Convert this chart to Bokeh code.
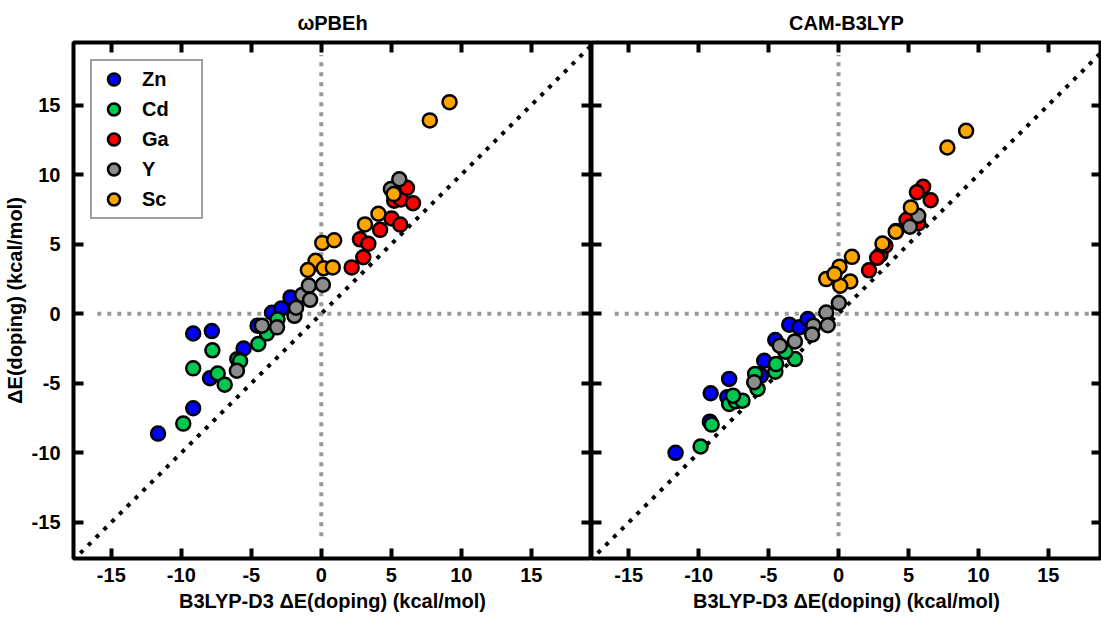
from bokeh.plotting import figure
from bokeh.layouts import row
from bokeh.models import LinearAxis, FixedTicker, Range1d
from bokeh.embed import file_html
from bokeh.resources import INLINE

FONT = "Liberation Sans"

# ---------------- data ----------------
metals = ["Zn", "Cd", "Ga", "Y", "Sc"]
colors = ["#0000FF", "#00C850", "#FF0000", "#8C8C8C", "#FFA500"]

ticks = [-15, -10, -5, 0, 5, 10, 15]
tick_labels = ["-15", "-10", "-5", "0", "5", "10", "15"]

# wPBEh panel (x = B3LYP-D3, y = functional)
zn_x_l = [-11.66, -9.15, -9.15, -7.82, -7.95, -5.55, -4.55, -3.52, -2.85, -2.20]
zn_y_l = [-8.62, -6.80, -1.42, -1.25, -4.64, -2.50, -0.86, 0.07, 0.38, 1.17]
cd_x_l = [-9.86, -9.15, -7.78, -7.40, -6.90, -6.00, -5.80, -4.50, -3.88, -3.13]
cd_y_l = [-7.90, -3.93, -2.63, -4.30, -5.10, -3.27, -3.40, -2.18, -1.41, -0.40]
ga_x_l = [2.17, 3.00, 2.76, 3.36, 4.20, 5.02, 5.64, 5.21, 5.69, 6.12, 6.55]
ga_y_l = [3.33, 4.06, 5.35, 5.03, 6.03, 6.85, 6.41, 8.12, 8.22, 9.05, 7.95]
y_x_l = [-6.03, -4.24, -3.16, -1.92, -1.80, -1.36, -0.89, -0.80, 0.11, 4.97, 5.57]
y_y_l = [-4.10, -0.86, -0.98, -0.15, 0.43, 1.35, 2.02, 1.00, 2.08, 8.96, 9.67]
sc_x_l = [9.16, 7.75, 5.17, 4.08, 3.12, 0.07, 0.92, -0.41, -0.96, 0.17, 0.82]
sc_y_l = [15.21, 13.90, 8.60, 7.19, 6.42, 5.09, 5.28, 3.81, 3.14, 3.27, 3.33]

# CAM-B3LYP panel
zn_x_r = [-11.65, -9.14, -9.20, -7.82, -7.95, -5.55, -5.31, -4.52, -3.52, -2.80, -2.20]
zn_y_r = [-10.00, -5.72, -7.76, -4.69, -6.00, -4.45, -3.38, -1.89, -0.79, -0.98, -0.38]
cd_x_r = [-9.86, -9.07, -7.82, -7.34, -6.87, -7.54, -5.79, -5.96, -4.52, -4.47, -3.11, -3.80]
cd_y_r = [-9.55, -7.97, -6.49, -6.30, -6.25, -5.89, -5.41, -4.33, -4.17, -3.62, -3.26, -2.73]
ga_x_r = [6.05, 5.60, 6.59, 5.70, 4.86, 4.12, 3.00, 2.76, 2.18, 3.35]
ga_y_r = [9.13, 8.73, 8.16, 6.50, 6.75, 5.95, 4.25, 4.02, 3.12, 4.90]
y_x_r = [5.70, 5.10, 0.02, -0.88, -0.77, -1.80, -1.89, -3.12, -4.20, -6.03]
y_y_r = [7.04, 6.25, 0.77, 0.09, -0.83, -0.86, -1.50, -1.99, -2.30, -4.93]
sc_x_r = [9.12, 7.78, 5.17, 4.09, 3.14, 0.96, 0.07, -0.88, 0.84, 0.12, -0.29]
sc_y_r = [13.15, 11.95, 7.64, 5.89, 5.05, 4.09, 3.38, 2.49, 2.32, 2.01, 2.85]

ref_extent = [-16.0, 18.6]     # grey zero lines
diag_extent = [-20.0, 21.0]    # y = x line

x_label = "B3LYP-D3 \u0394E(doping) (kcal/mol)"
y_label = "\u0394E(doping) (kcal/mol)"
titles = ["\u03c9PBEh", "CAM-B3LYP"]

left_series = [(zn_x_l, zn_y_l), (cd_x_l, cd_y_l), (ga_x_l, ga_y_l), (y_x_l, y_y_l), (sc_x_l, sc_y_l)]
right_series = [(zn_x_r, zn_y_r), (cd_x_r, cd_y_r), (ga_x_r, ga_y_r), (y_x_r, y_y_r), (sc_x_r, sc_y_r)]

Y_RANGE = (-17.6, 19.5)


def style_axis(ax, show_labels, standoff=10):
    ax.ticker = FixedTicker(ticks=ticks)
    ax.major_tick_in = 10
    ax.major_tick_out = 0
    ax.major_tick_line_width = 4
    ax.major_tick_line_color = "black"
    ax.minor_tick_line_color = None
    ax.axis_line_color = None
    if show_labels:
        ax.major_label_overrides = {t: l for t, l in zip(ticks, tick_labels)}
        ax.major_label_text_font = FONT
        ax.major_label_text_font_size = "20px"
        ax.major_label_text_font_style = "bold"
        ax.major_label_text_color = "black"
        ax.major_label_standoff = standoff
    else:
        ax.major_label_text_font_size = "0px"
        ax.major_label_text_color = None
        ax.major_label_standoff = 0
        ax.axis_label = None


def make_panel(title, x_rng, width, min_left, series, with_ylabel, with_legend):
    p = figure(width=width, height=618, x_range=Range1d(*x_rng), y_range=Range1d(*Y_RANGE),
               output_backend="svg", toolbar_location=None, title=title,
               min_border_left=min_left, min_border_right=0, min_border_top=42,
               min_border_bottom=60)
    p.xgrid.visible = False
    p.ygrid.visible = False
    p.background_fill_color = "white"
    p.border_fill_color = "white"
    p.outline_line_color = "black"
    p.outline_line_width = 4
    p.outline_line_alpha = 1

    p.title.text_font = FONT
    p.title.text_font_size = "20px"
    p.title.text_font_style = "bold"
    p.title.text_color = "black"
    p.title.align = "center"
    p.title.standoff = 17

    # bottom axis
    style_axis(p.xaxis[0], True, standoff=9)
    p.xaxis[0].axis_label = x_label
    p.xaxis[0].axis_label_text_font = FONT
    p.xaxis[0].axis_label_text_font_size = "20px"
    p.xaxis[0].axis_label_text_font_style = "bold"
    p.xaxis[0].axis_label_text_color = "black"
    p.xaxis[0].axis_label_standoff = 5

    # left axis
    if with_ylabel:
        style_axis(p.yaxis[0], True, standoff=13)
        p.yaxis[0].axis_label = y_label
        p.yaxis[0].axis_label_text_font = FONT
        p.yaxis[0].axis_label_text_font_size = "20px"
        p.yaxis[0].axis_label_text_font_style = "bold"
        p.yaxis[0].axis_label_text_color = "black"
        p.yaxis[0].axis_label_standoff = 3
    else:
        style_axis(p.yaxis[0], False)

    top = LinearAxis()
    style_axis(top, False)
    p.add_layout(top, "above")
    right = LinearAxis()
    style_axis(right, False)
    p.add_layout(right, "right")

    # reference lines
    p.line(ref_extent, [0, 0], line_color="#999999", line_width=4, line_dash="4 6")
    p.line([0, 0], ref_extent, line_color="#999999", line_width=4, line_dash="4 6")
    p.line(diag_extent, diag_extent, line_color="black", line_width=4, line_dash="4 7")

    for (xs, ys), m, c in zip(series, metals, colors):
        kw = dict(size=14, marker="circle", fill_color=c, line_color="black", line_width=2.5)
        if with_legend:
            p.scatter(xs, ys, legend_label=m, **kw)
        else:
            p.scatter(xs, ys, **kw)

    if with_legend:
        lg = p.legend[0]
        lg.location = "top_left"
        lg.margin = 17
        lg.padding = 3
        lg.spacing = 0
        lg.glyph_height = 30
        lg.glyph_width = 37
        lg.label_height = 30
        lg.label_width = 56
        lg.label_standoff = 10
        lg.label_text_font = FONT
        lg.label_text_font_size = "20px"
        lg.label_text_font_style = "bold"
        lg.label_text_color = "black"
        lg.border_line_color = "#404040"
        lg.border_line_width = 2.5
        lg.background_fill_alpha = 1
    return p


p1 = make_panel(titles[0], (-17.7, 19.3), 591, 73, left_series, True, True)
p2 = make_panel(titles[1], (-17.66, 18.8), 510, 0, right_series, False, False)

layout = row(p1, p2, spacing=0)
open("out.html", "w").write(file_html(layout, INLINE))
